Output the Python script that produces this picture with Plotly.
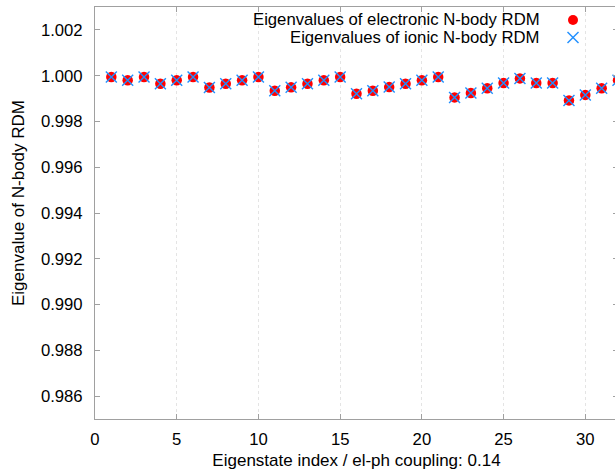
import plotly.graph_objects as go

# Eigenstate indices and the two sets of N-body RDM eigenvalues
state_index = list(range(1, 33))
electronic_eig = [
    0.99994, 0.99980, 0.99994, 0.99965, 0.99980, 0.99994, 0.99948, 0.99965,
    0.99980, 0.99994, 0.99934, 0.99949, 0.99965, 0.99980, 0.99994, 0.99921,
    0.99934, 0.99950, 0.99965, 0.99980, 0.99994, 0.99905, 0.99924, 0.99945,
    0.99968, 0.99988, 0.99968, 0.99968, 0.99892, 0.99916, 0.99945, 0.99980,
]
ionic_eig = list(electronic_eig)

x_ticks = [0, 5, 10, 15, 20, 25, 30]
y_ticks = [0.986, 0.988, 0.990, 0.992, 0.994, 0.996, 0.998, 1.000, 1.002]
y_tick_text = [f"{v:.3f}" for v in y_ticks]

legend_labels = ["Eigenvalues of electronic N-body RDM", "Eigenvalues of ionic N-body RDM"]

RED = "#ff0000"
BLUE = "#1f8fff"
AXIS = "#a0a0a0"
FONT = "Liberation Sans, Arial, sans-serif"
FS = 16.7

fig = go.Figure()
fig.add_trace(go.Scatter(
    x=state_index, y=electronic_eig, mode="markers", name=legend_labels[0],
    marker=dict(symbol="circle", size=10.5, color=RED, line=dict(width=0)),
))
fig.add_trace(go.Scatter(
    x=state_index, y=ionic_eig, mode="markers", name=legend_labels[1],
    marker=dict(symbol="x-thin-open", size=11, color=BLUE, line=dict(width=1.4, color=BLUE)),
))

# The canvas runs a few pixels past the 615 px viewport, so the right frame edge falls outside
W, H = 618, 470
L, R, T, B = 95, 0, 7, 51

fig.update_layout(
    width=W, height=H,
    margin=dict(l=L, r=R, t=T, b=B),
    paper_bgcolor="white", plot_bgcolor="white",
    showlegend=False,
    font=dict(family=FONT, size=FS, color="black"),
    xaxis=dict(
        range=[0, 32], tickvals=x_ticks, ticks="inside", ticklen=5, tickcolor=AXIS,
        showline=True, linecolor=AXIS, linewidth=1, mirror="ticks",
        showgrid=True, gridcolor="#e4e4e4", griddash="dot", gridwidth=1,
        zeroline=False, ticklabelstandoff=5,
        title=dict(text="Eigenstate index / el-ph coupling: 0.14", standoff=9,
                   font=dict(size=17)),
    ),
    yaxis=dict(
        range=[0.985, 1.003], tickvals=y_ticks, ticktext=y_tick_text,
        ticks="inside", ticklen=5, tickcolor=AXIS,
        showline=True, linecolor=AXIS, linewidth=1, mirror="ticks",
        showgrid=False, zeroline=False, ticklabelstandoff=8,
    ),
)

# Axis title for y, placed to the left of the tick labels
fig.add_annotation(
    text="Eigenvalue of N-body RDM", textangle=-90,
    xref="paper", yref="paper", x=-(L - 18) / (W - L - R), y=(H - B - 203) / (H - T - B),
    xanchor="center", yanchor="middle", showarrow=False, font=dict(size=17),
)

# Key in the upper right: right-aligned labels followed by the marker samples
plot_w, plot_h = W - L - R, H - T - B
def px(xp):
    return (xp - L) / plot_w
def py(yp):
    return (H - B - yp) / plot_h

for label, yp in zip(legend_labels, [20, 37.5]):
    fig.add_annotation(text=label, xref="paper", yref="paper", x=px(542), y=py(yp),
                       xanchor="right", yanchor="middle", showarrow=False,
                       font=dict(size=FS))

cx, cy, r = 573, 20, 5
fig.add_shape(type="circle", xref="paper", yref="paper",
              x0=px(cx - r), x1=px(cx + r), y0=py(cy + r), y1=py(cy - r),
              fillcolor=RED, line=dict(width=0))
cx, cy, d = 573, 37.5, 5.5
for (xa, ya, xb, yb) in [(cx - d, cy - d, cx + d, cy + d), (cx - d, cy + d, cx + d, cy - d)]:
    fig.add_shape(type="line", xref="paper", yref="paper",
                  x0=px(xa), y0=py(ya), x1=px(xb), y1=py(yb),
                  line=dict(color=BLUE, width=1.4))

# Keep the page free of scrollbars
fig.write_html(
    "out.html",
    post_script="document.documentElement.style.overflow='hidden';"
                "document.body.style.overflow='hidden';document.body.style.margin='0';",
)
